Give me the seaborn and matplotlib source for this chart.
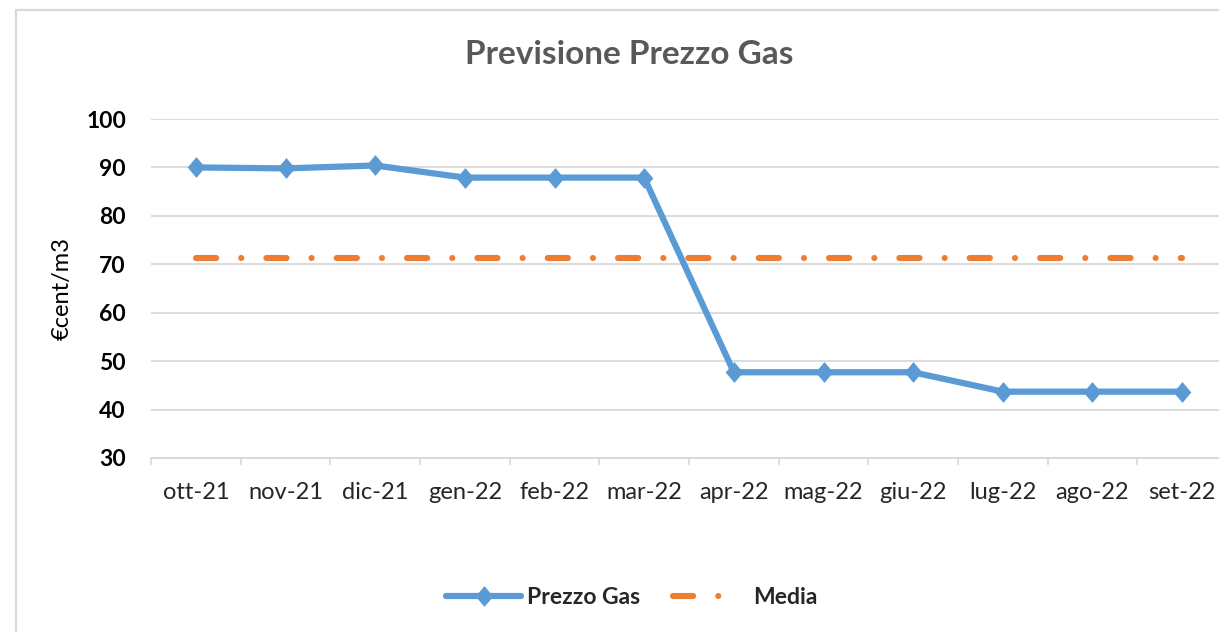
import matplotlib
matplotlib.use("Agg")
import matplotlib.pyplot as plt
from matplotlib.lines import Line2D
from matplotlib.path import Path
import seaborn as sns
import pandas as pd

# Monthly gas price forecast (€cent/m3) and its average level
mesi = ["ott-21", "nov-21", "dic-21", "gen-22", "feb-22", "mar-22",
        "apr-22", "mag-22", "giu-22", "lug-22", "ago-22", "set-22"]
prezzo_gas = [90.0, 89.8, 90.4, 87.9, 87.9, 87.9, 47.7, 47.7, 47.7, 43.7, 43.7, 43.7]
media = [71.4, 71.4, 71.4, 71.4, 71.4, 71.4, 71.4, 71.4, 71.4, 71.4, 71.4, 71.4]
y_ticks = [30, 40, 50, 60, 70, 80, 90, 100]

df = pd.DataFrame({"pos": range(len(mesi)), "mese": mesi,
                   "Prezzo Gas": prezzo_gas, "Media": media})

sns.set_theme(style="white")
plt.rcParams["font.family"] = ["Lato", "DejaVu Sans"]

BLUE = "#5b9bd5"
ORANGE = "#ed7d31"
GRID = "#d9d9d9"
MEDIA_DASH = (0, (3.3, 4.1, 0.01, 4.1))

fig = plt.figure(figsize=(12.19, 6.32), dpi=100)
ax = fig.add_axes([151 / 1219, 1 - 458 / 632, 1076 / 1219, 339 / 632])

diamond = Path([(0, 1), (0.85, 0), (0, -1), (-0.85, 0), (0, 1)],
               [Path.MOVETO, Path.LINETO, Path.LINETO, Path.LINETO, Path.CLOSEPOLY])

sns.lineplot(data=df, x="pos", y="Prezzo Gas", ax=ax, color=BLUE, lw=4.5,
             marker=diamond, markersize=15, markeredgewidth=0,
             label="Prezzo Gas", zorder=4)
sns.lineplot(data=df, x="pos", y="Media", ax=ax, color=ORANGE, lw=4.4,
             linestyle=MEDIA_DASH, dash_capstyle="round",
             label="Media", zorder=3)

ax.set_xlim(-0.5, len(mesi) - 0.5)
ax.set_ylim(30, 100)
ax.set_yticks(y_ticks)
ax.set_yticklabels([str(v) for v in y_ticks], fontsize=16.5, fontweight="bold",
                   color="#000000")
ax.set_xticks(df["pos"])
ax.set_xticklabels(mesi, fontsize=17, color="#262626")
ax.set_xticks([p - 0.5 for p in range(len(mesi) + 1)], minor=True)
ax.tick_params(axis="x", which="major", length=0, pad=17)
ax.tick_params(axis="x", which="minor", length=5, width=1.2, color=GRID,
               direction="out", bottom=True)
ax.tick_params(axis="y", length=0, pad=18)

ax.grid(axis="y", color=GRID, lw=1.3)
ax.set_axisbelow(True)
for side in ["top", "right", "left"]:
    ax.spines[side].set_visible(False)
ax.spines["bottom"].set_color(GRID)
ax.spines["bottom"].set_linewidth(1.5)
ax.spines["bottom"].set_zorder(1)

ax.set_xlabel("")
ax.set_ylabel("€cent/m3", fontsize=17, color="#000000")
ax.yaxis.set_label_coords((73 - 151) / 1076, 0.5)

# legend: the Media key gets a longer trailing gap so the dot stands apart
h_prezzo, h_media = ax.get_legend_handles_labels()[0]
key_media = Line2D([], [], color=ORANGE, lw=4.4, dash_capstyle="round",
                   linestyle=(0, (3.3, 4.1, 0.01, 12)))
ax.legend([h_prezzo, key_media], ["Prezzo Gas", "Media"], loc="center",
          bbox_to_anchor=(632 / 1219, 1 - 598 / 632),
          bbox_transform=fig.transFigure, ncol=2, frameon=False,
          handlelength=3.25, handletextpad=0.25, columnspacing=1.45,
          prop={"size": 16.5, "weight": "bold"})

fig.text(629 / 1219, 1 - 55 / 632, "Previsione Prezzo Gas", ha="center",
         va="center", fontsize=24, fontweight="bold", color="#595959")

# chart frame
fig.add_artist(Line2D([16 / 1219, 16 / 1219], [0, 1 - 10 / 632],
                      transform=fig.transFigure, color=GRID, lw=1.6))
fig.add_artist(Line2D([16 / 1219, 1], [1 - 10 / 632, 1 - 10 / 632],
                      transform=fig.transFigure, color=GRID, lw=1.6))

fig.savefig("out.png", dpi=100, facecolor="white")
